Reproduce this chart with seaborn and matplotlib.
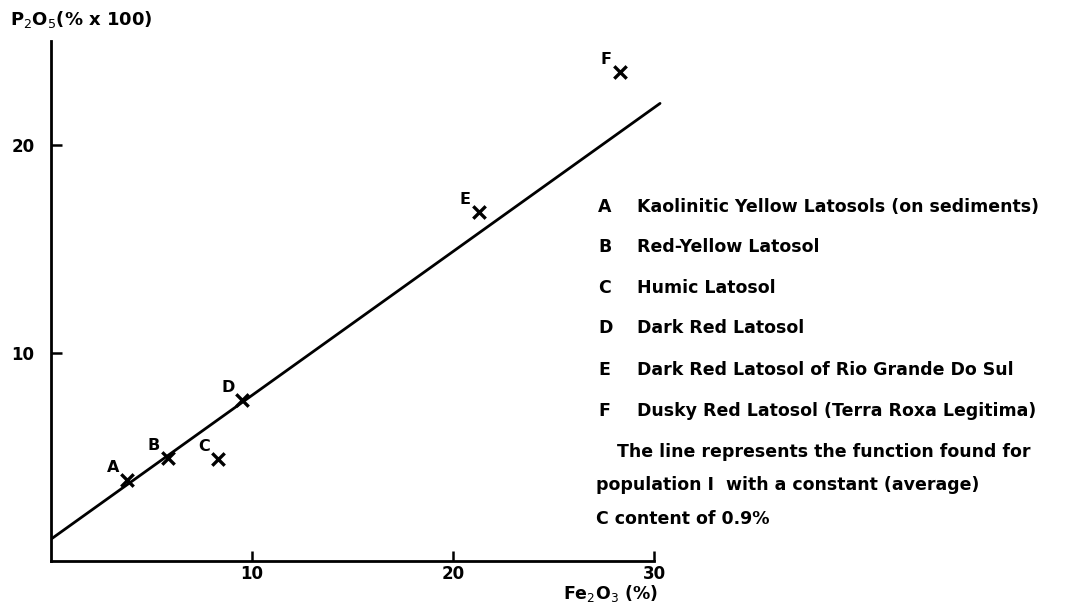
import matplotlib
matplotlib.use('Agg')
import matplotlib.pyplot as plt
import seaborn as sns
import pandas as pd

# Soil samples (letters) and their Fe2O3 / P2O5 contents
labels = ['A', 'B', 'C', 'D', 'E', 'F']
fe2o3 = [3.8, 5.8, 8.3, 9.5, 21.3, 28.3]
p2o5 = [3.9, 4.95, 4.9, 7.75, 16.8, 23.5]

# Fitted line for population I
fit_fe = [0.0, 30.3]
fit_p = [1.05, 22.0]

soil_names = [
    'Kaolinitic Yellow Latosols (on sediments)',
    'Red-Yellow Latosol',
    'Humic Latosol',
    'Dark Red Latosol',
    'Dark Red Latosol of Rio Grande Do Sul',
    'Dusky Red Latosol (Terra Roxa Legitima)',
]
note_lines = [
    'The line represents the function found for',
    'population I  with a constant (average)',
    'C content of 0.9%',
]

sns.set_style('white')
plt.rcParams['font.family'] = ['DejaVu Sans']
for key in ['text.color', 'axes.edgecolor', 'axes.labelcolor',
            'xtick.color', 'ytick.color']:
    plt.rcParams[key] = 'black'

W, H = 1067, 615
fig = plt.figure(figsize=(W / 100, H / 100), dpi=100)
ax = fig.add_axes([51 / W, 54 / H, 30.4 * 20.1 / W, 520 / H])

df = pd.DataFrame({'Fe2O3': fe2o3, 'P2O5': p2o5, 'label': labels})
fit = pd.DataFrame({'Fe2O3': fit_fe, 'P2O5': fit_p})

sns.lineplot(data=fit, x='Fe2O3', y='P2O5', color='black', linewidth=2, ax=ax)
sns.scatterplot(data=df, x='Fe2O3', y='P2O5', marker='x', s=80,
                color='black', linewidth=2.4, ax=ax)

for _, row in df.iterrows():
    ax.annotate(row['label'], (row['Fe2O3'], row['P2O5']),
                xytext=(-10, 9), textcoords='offset points',
                ha='center', va='center', fontsize=11.5, fontweight='bold')

ax.set_xlim(0, 30.4)
ax.set_ylim(0, 25)
ax.set_xticks([10, 20, 30])
ax.set_yticks([10, 20])
ax.tick_params(axis='x', direction='in', length=7, width=1.8, pad=3,
               labelsize=12)
ax.tick_params(axis='y', direction='in', length=8, width=1.8, pad=12,
               labelsize=12)
ax.tick_params(left=True, bottom=True)
for lbl in ax.get_xticklabels() + ax.get_yticklabels():
    lbl.set_fontweight('bold')

sns.despine(ax=ax)
ax.spines['left'].set_linewidth(2)
ax.spines['bottom'].set_linewidth(2)
ax.spines['bottom'].set_bounds(0, 30)
ax.spines['left'].set_bounds(0, 25)
ax.set_xlabel('')
ax.set_ylabel('')

fig.text(10 / W, 1 - 20 / H, r'P$_2$O$_5$(% x 100)', fontsize=13,
         fontweight='bold', va='center', ha='left')
fig.text(658 / W, 1 - 593 / H, r'Fe$_2$O$_3$ (%)', fontsize=12.5,
         fontweight='bold', va='center', ha='right')

# Legend text block on the right
row_y = [207, 247, 288, 328, 370, 411]
for lab, name, y in zip(labels, soil_names, row_y):
    fig.text(598 / W, 1 - y / H, lab, fontsize=12.5, fontweight='bold', va='center')
    fig.text(637 / W, 1 - y / H, name, fontsize=12.5, fontweight='bold', va='center')

note_x = [617, 596, 596]
note_y = [452, 485, 519]
for txt, x, y in zip(note_lines, note_x, note_y):
    fig.text(x / W, 1 - y / H, txt, fontsize=12.5, fontweight='bold', va='center')

fig.savefig('out.png', dpi=100)
